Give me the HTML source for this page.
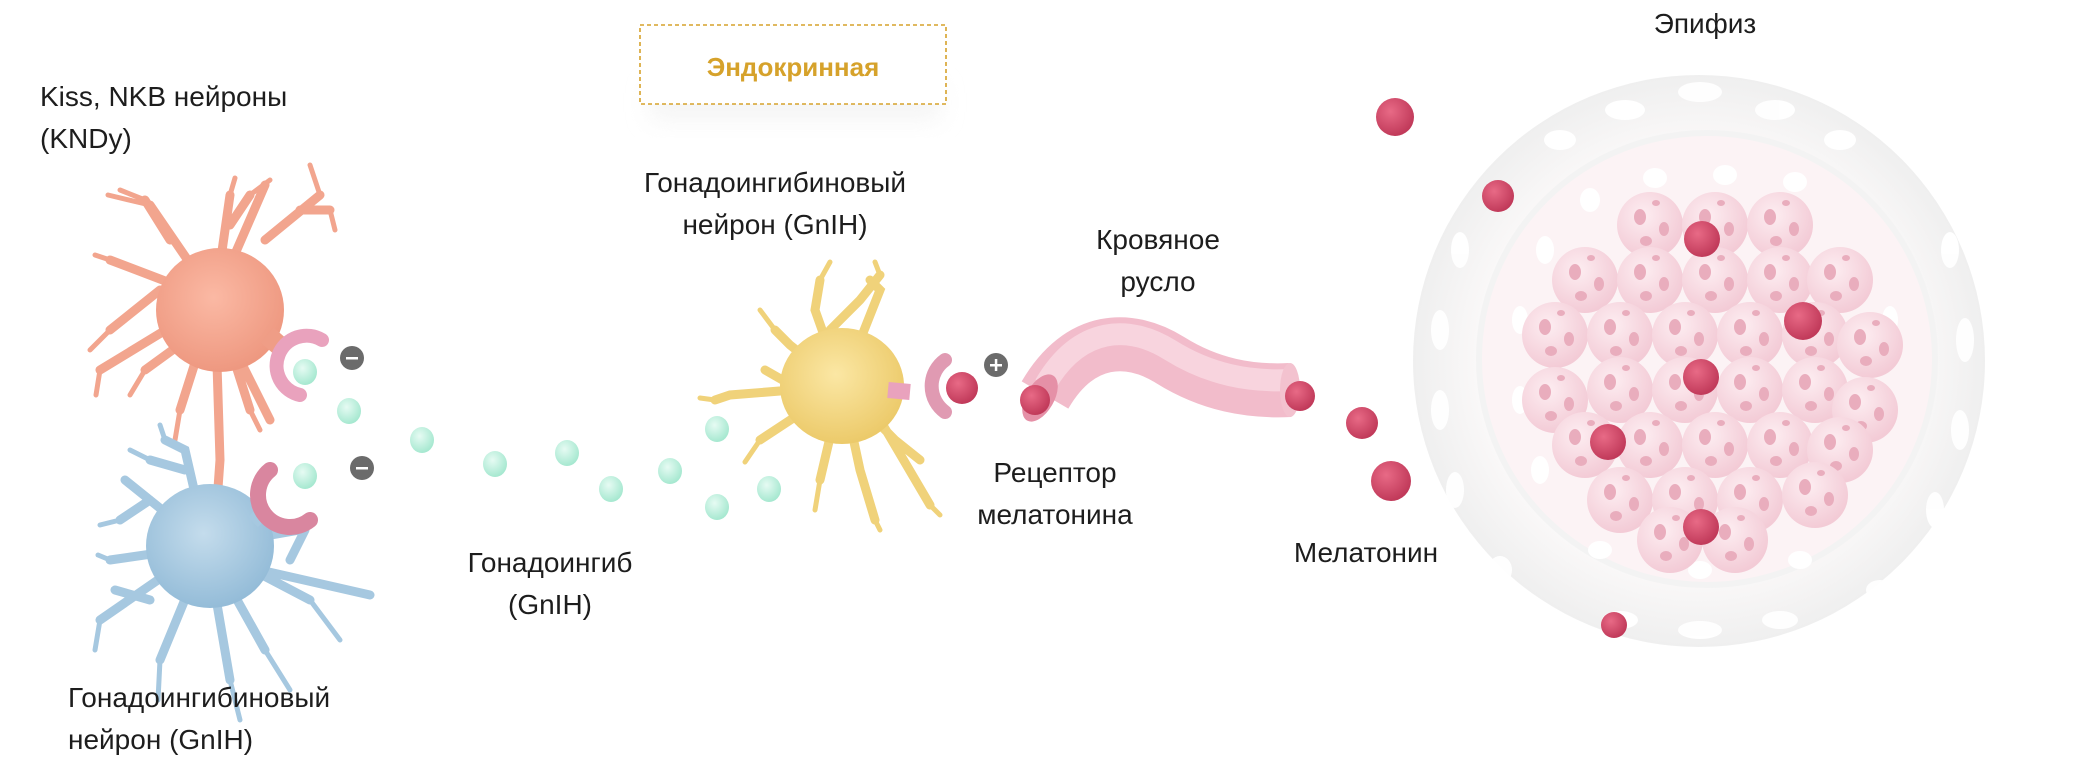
<!DOCTYPE html>
<html><head><meta charset="utf-8"><style>
html,body{margin:0;padding:0;background:#fff;}
body{width:2078px;height:758px;position:relative;overflow:hidden;font-family:"Liberation Sans",sans-serif;color:#1d1d1d;}
.t{position:absolute;font-size:28px;line-height:42px;white-space:nowrap;}
.c{text-align:center;transform:translateX(-50%);}
svg{position:absolute;left:0;top:0;}
</style></head><body>
<svg width="2078" height="758" viewBox="0 0 2078 758">
<defs>
<radialGradient id="or" cx="45%" cy="40%" r="60%"><stop offset="0" stop-color="#fbb9a4"/><stop offset="1" stop-color="#ee9880"/></radialGradient>
<radialGradient id="bl" cx="45%" cy="40%" r="60%"><stop offset="0" stop-color="#c4dcec"/><stop offset="1" stop-color="#94bcd8"/></radialGradient>
<radialGradient id="ye" cx="45%" cy="40%" r="60%"><stop offset="0" stop-color="#fbe7a4"/><stop offset="1" stop-color="#ecca6a"/></radialGradient>
<radialGradient id="gr" cx="40%" cy="35%" r="65%"><stop offset="0" stop-color="#e6fbf3"/><stop offset="1" stop-color="#a6e8d0"/></radialGradient>
<radialGradient id="rd" cx="38%" cy="35%" r="65%"><stop offset="0" stop-color="#e86a86"/><stop offset="1" stop-color="#c13a5a"/></radialGradient>
<radialGradient id="pk" cx="40%" cy="35%" r="65%"><stop offset="0" stop-color="#fdedf1"/><stop offset="1" stop-color="#f3cbd6"/></radialGradient>
<radialGradient id="ep" cx="50%" cy="50%" r="50%"><stop offset="0.75" stop-color="#fbf9f9"/><stop offset="1" stop-color="#efefef"/></radialGradient>
<filter id="sh" x="-20%" y="-50%" width="140%" height="200%"><feGaussianBlur stdDeviation="12"/></filter>
<g id="ball"><circle r="33" fill="url(#pk)"/><ellipse cx="-10" cy="-8" rx="6" ry="8" fill="#e9adbd"/><ellipse cx="14" cy="4" rx="5" ry="7" fill="#e9adbd"/><ellipse cx="-4" cy="16" rx="6" ry="5" fill="#e9adbd"/><ellipse cx="6" cy="-22" rx="4" ry="3" fill="#e9adbd"/></g>
</defs>

<rect x="650" y="85" width="290" height="35" fill="#eee" filter="url(#sh)" opacity="0.6"/>
<rect x="640" y="25" width="306" height="79" fill="#fff" stroke="#d6a22b" stroke-width="1.6" stroke-dasharray="4 3"/>
<text x="793" y="76" text-anchor="middle" font-family="Liberation Sans" font-weight="bold" font-size="26" fill="#d6a22b">Эндокринная</text>

<g stroke="#f2a58e" stroke-linecap="round" fill="none">
<path d="M215 300 L150 205 M170 240 L145 200 M215 300 L230 195 M230 225 L250 195 M215 300 L265 185 M265 240 L320 195 M300 210 L330 210 M215 300 L110 260 M160 290 L110 330 M215 300 L100 370 M200 330 L145 370 M215 300 L180 410 M215 300 L220 460 L210 600 M215 300 L250 410 M240 360 L270 420" stroke-width="9"/>
<path d="M150 205 L108 195 M145 200 L120 190 M230 195 L235 178 M250 195 L270 180 M320 195 L310 165 M330 210 L335 230 M110 260 L95 255 M110 330 L90 350 M100 370 L96 395 M145 370 L130 395 M180 410 L175 440 M250 410 L260 430" stroke-width="5"/>
</g>
<ellipse cx="220" cy="310" rx="64" ry="62" fill="url(#or)"/>
<path d="M267 335 L282 348" stroke="#ef9d86" stroke-width="20"/>
<path d="M322 340 A30 30 0 1 0 300 395" stroke="#e9a2bd" stroke-width="14" fill="none" stroke-linecap="round"/>

<g stroke="#a6c8e0" stroke-linecap="round" fill="none">
<path d="M207 546 L185 450 L165 440 M185 470 L150 460 M207 546 L125 480 M150 500 L120 520 M207 546 L110 560 M207 546 L100 620 M150 600 L115 590 M207 546 L160 660 M207 546 L230 680 M207 546 L265 650 M207 546 L310 600 M260 570 L370 595 M207 546 L300 530 M290 560 L305 530" stroke-width="9"/>
<path d="M165 440 L160 425 M150 460 L130 450 M120 520 L100 525 M110 560 L98 555 M100 620 L95 650 M160 660 L158 700 M230 680 L240 720 M265 650 L290 690 M310 600 L340 640" stroke-width="5"/>
</g>
<ellipse cx="210" cy="546" rx="64" ry="62" fill="url(#bl)"/>
<path d="M255 510 L265 520" stroke="#a6c8e0" stroke-width="20"/>
<path d="M270 470 A32 32 0 0 0 310 520" stroke="#d9869f" stroke-width="16" fill="none" stroke-linecap="round"/>

<g stroke="#f0d27a" stroke-linecap="round" fill="none">
<path d="M842 386 L815 310 L820 280 M830 330 L860 300 L880 275 M842 386 L880 290 L870 280 M842 386 L790 345 L775 330 M842 386 L730 395 L715 400 M800 390 L765 370 M842 386 L760 440 M842 386 L820 480 M842 386 L860 470 L875 520 M842 386 L895 440 L920 460 M880 420 L930 505" stroke-width="9"/>
<path d="M820 280 L830 262 M880 275 L875 262 M775 330 L760 310 M715 400 L700 398 M760 440 L745 462 M820 480 L815 510 M875 520 L880 530 M930 505 L940 515" stroke-width="5"/>
</g>
<ellipse cx="842" cy="386" rx="62" ry="58" fill="url(#ye)"/>
<path d="M888 390 L910 392" stroke="#e9a2bd" stroke-width="16"/>
<path d="M945 360 A32 32 0 0 0 945 412" stroke="#e09ab2" stroke-width="14" fill="none" stroke-linecap="round"/>
<circle cx="962" cy="388" r="16" fill="url(#rd)"/>

<circle cx="352" cy="358" r="12" fill="#6b6b6b"/><rect x="346" y="357" width="12" height="2.5" fill="#fff"/>
<circle cx="362" cy="468" r="12" fill="#6b6b6b"/><rect x="356" y="467" width="12" height="2.5" fill="#fff"/>
<circle cx="996" cy="365" r="12" fill="#6b6b6b"/><rect x="990" y="364" width="12" height="2.5" fill="#fff"/><rect x="994.8" y="359" width="2.5" height="12" fill="#fff"/>

<g fill="url(#gr)">
<ellipse cx="305" cy="372" rx="12" ry="13"/><ellipse cx="349" cy="411" rx="12" ry="13"/><ellipse cx="422" cy="440" rx="12" ry="13"/><ellipse cx="495" cy="464" rx="12" ry="13"/><ellipse cx="567" cy="453" rx="12" ry="13"/><ellipse cx="611" cy="489" rx="12" ry="13"/><ellipse cx="670" cy="471" rx="12" ry="13"/><ellipse cx="717" cy="507" rx="12" ry="13"/><ellipse cx="769" cy="489" rx="12" ry="13"/><ellipse cx="717" cy="429" rx="12" ry="13"/><ellipse cx="305" cy="476" rx="12" ry="13"/>
</g>

<!-- tube -->
<path d="M1045 395 C1080 335 1130 335 1170 360 C1210 385 1250 392 1290 390" stroke="#f2bccb" stroke-width="54" fill="none"/>
<path d="M1045 395 C1080 335 1130 335 1170 360 C1210 385 1250 392 1290 390" stroke="#f8d4de" stroke-width="22" fill="none" transform="translate(0,-10)"/>
<ellipse cx="1040" cy="398" rx="14" ry="26" fill="#e590a7" transform="rotate(30 1040 398)"/>
<ellipse cx="1290" cy="390" rx="10" ry="27" fill="#f3c2cf"/>
<circle cx="1035" cy="400" r="15" fill="url(#rd)"/>
<circle cx="1300" cy="396" r="15" fill="url(#rd)"/>

<ellipse cx="1699" cy="361" rx="286" ry="286" fill="url(#ep)"/>
<g fill="#fff" opacity="0.95">
<ellipse cx="1700" cy="92" rx="22" ry="10"/><ellipse cx="1775" cy="110" rx="20" ry="10"/><ellipse cx="1625" cy="110" rx="20" ry="10"/><ellipse cx="1840" cy="140" rx="16" ry="10"/><ellipse cx="1560" cy="140" rx="16" ry="10"/>
<ellipse cx="1460" cy="250" rx="9" ry="18"/><ellipse cx="1440" cy="330" rx="9" ry="20"/><ellipse cx="1440" cy="410" rx="9" ry="20"/><ellipse cx="1455" cy="490" rx="9" ry="18"/><ellipse cx="1500" cy="570" rx="12" ry="14"/>
<ellipse cx="1950" cy="250" rx="9" ry="18"/><ellipse cx="1965" cy="340" rx="9" ry="22"/><ellipse cx="1960" cy="430" rx="9" ry="20"/><ellipse cx="1935" cy="510" rx="9" ry="18"/><ellipse cx="1880" cy="590" rx="14" ry="10"/>
<ellipse cx="1700" cy="630" rx="22" ry="9"/><ellipse cx="1620" cy="620" rx="18" ry="9"/><ellipse cx="1780" cy="620" rx="18" ry="9"/>
</g>
<ellipse cx="1707" cy="359" rx="228" ry="226" fill="#fcf3f5" stroke="#f3f3f3" stroke-width="6"/>
<g fill="#fff">
<ellipse cx="1655" cy="178" rx="12" ry="10"/><ellipse cx="1725" cy="175" rx="12" ry="10"/><ellipse cx="1795" cy="182" rx="12" ry="10"/><ellipse cx="1590" cy="200" rx="10" ry="12"/><ellipse cx="1545" cy="250" rx="9" ry="14"/><ellipse cx="1520" cy="320" rx="8" ry="14"/><ellipse cx="1520" cy="400" rx="8" ry="14"/><ellipse cx="1540" cy="470" rx="9" ry="14"/><ellipse cx="1890" cy="320" rx="8" ry="14"/><ellipse cx="1880" cy="420" rx="8" ry="14"/><ellipse cx="1600" cy="550" rx="12" ry="9"/><ellipse cx="1700" cy="570" rx="12" ry="9"/><ellipse cx="1800" cy="560" rx="12" ry="9"/>
</g>
<g>
<use href="#ball" x="1650" y="225"/><use href="#ball" x="1715" y="225"/><use href="#ball" x="1780" y="225"/>
<use href="#ball" x="1585" y="280"/><use href="#ball" x="1650" y="280"/><use href="#ball" x="1715" y="280"/><use href="#ball" x="1780" y="280"/><use href="#ball" x="1840" y="280"/>
<use href="#ball" x="1555" y="335"/><use href="#ball" x="1620" y="335"/><use href="#ball" x="1685" y="335"/><use href="#ball" x="1750" y="335"/><use href="#ball" x="1815" y="335"/><use href="#ball" x="1870" y="345"/>
<use href="#ball" x="1555" y="400"/><use href="#ball" x="1620" y="390"/><use href="#ball" x="1685" y="390"/><use href="#ball" x="1750" y="390"/><use href="#ball" x="1815" y="390"/><use href="#ball" x="1865" y="410"/>
<use href="#ball" x="1585" y="445"/><use href="#ball" x="1650" y="445"/><use href="#ball" x="1715" y="445"/><use href="#ball" x="1780" y="445"/><use href="#ball" x="1840" y="450"/>
<use href="#ball" x="1620" y="500"/><use href="#ball" x="1685" y="500"/><use href="#ball" x="1750" y="500"/><use href="#ball" x="1815" y="495"/>
<use href="#ball" x="1670" y="540"/><use href="#ball" x="1735" y="540"/>
</g>
<g fill="url(#rd)">
<circle cx="1702" cy="239" r="18"/><circle cx="1803" cy="321" r="19"/><circle cx="1701" cy="377" r="18"/><circle cx="1608" cy="442" r="18"/><circle cx="1701" cy="527" r="18"/>
<circle cx="1395" cy="117" r="19"/><circle cx="1498" cy="196" r="16"/><circle cx="1362" cy="423" r="16"/><circle cx="1391" cy="481" r="20"/><circle cx="1614" cy="625" r="13"/>
</g>
</svg>

<div class="t" style="left:40px;top:76px;">Kiss, NKB нейроны<br>(KNDy)</div>
<div class="t c" style="left:775px;top:162px;">Гонадоингибиновый<br>нейрон (GnIH)</div>
<div class="t" style="left:68px;top:677px;">Гонадоингибиновый<br>нейрон (GnIH)</div>
<div class="t c" style="left:550px;top:542px;">Гонадоингиб<br>(GnIH)</div>
<div class="t c" style="left:1055px;top:452px;">Рецептор<br>мелатонина</div>
<div class="t c" style="left:1158px;top:219px;">Кровяное<br>русло</div>
<div class="t c" style="left:1366px;top:532px;">Мелатонин</div>
<div class="t c" style="left:1705px;top:3px;">Эпифиз</div>
</body></html>
